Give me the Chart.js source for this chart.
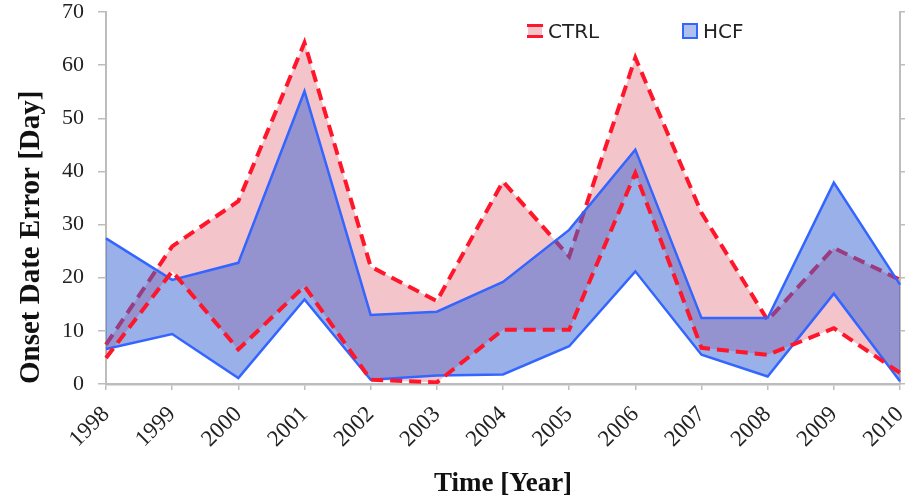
<!DOCTYPE html>
<html lang="en">
  <head>
    <meta charset="UTF-8" />
    <title>Onset Date Error</title>
    <script src="https://cdn.jsdelivr.net/npm/chart.js@4.4.0/dist/chart.umd.min.js"></script>
    <style>
      body { margin: 0; background: #fff; }
    </style>
  </head>
  <body>
    <canvas id="onsetChart" width="916" height="500"></canvas>

    <script>
      // values (days)
      const years = ["1998", "1999", "2000", "2001", "2002", "2003", "2004",
        "2005", "2006", "2007", "2008", "2009", "2010"];
      const ctrlUpper = [7.4, 25.9, 34.4, 64.2, 22.1, 15.6, 38.1, 24.0, 61.4, 32.2, 12.0, 25.6, 19.6];
      const ctrlLower = [4.9, 21.2, 6.5, 18.4, 0.8, 0.3, 10.2, 10.2, 39.7, 6.8, 5.5, 10.5, 2.1];
      const hcfUpper = [27.4, 19.6, 22.8, 55.1, 13.0, 13.6, 19.2, 29.0, 44.1, 12.4, 12.4, 37.9, 18.7];
      const hcfLower = [6.6, 9.4, 1.1, 15.9, 0.8, 1.6, 1.8, 7.1, 21.2, 5.5, 1.4, 17.0, 0.5];
      const yTicks = [0, 10, 20, 30, 40, 50, 60, 70];

      const red = "rgb(255, 22, 42)";
      const pink = "rgba(214, 64, 84, 0.3)";
      const blue = "rgb(52, 102, 255)";
      const blueFill = "rgba(53, 97, 211, 0.5)";
      const axisGray = "#bdbdbd";
      const serif = "'Liberation Serif', 'Times New Roman', serif";

      // legend sits inside the plot, so draw it by hand
      const cornerLegend = {
        id: "cornerLegend",
        afterDraw(chart) {
          const ctx = chart.ctx;
          ctx.save();
          // CTRL swatch
          ctx.fillStyle = pink;
          ctx.fillRect(528, 25, 14, 12);
          ctx.strokeStyle = red;
          ctx.lineWidth = 3;
          ctx.beginPath();
          ctx.moveTo(527, 25.5);
          ctx.lineTo(543, 25.5);
          ctx.moveTo(527, 36.5);
          ctx.lineTo(543, 36.5);
          ctx.stroke();
          // HCF swatch
          ctx.fillStyle = "rgba(53, 97, 211, 0.4)";
          ctx.fillRect(683, 24, 14, 14);
          ctx.strokeStyle = blue;
          ctx.lineWidth = 2;
          ctx.strokeRect(683, 24, 14, 14);

          ctx.fillStyle = "#222";
          ctx.font = "20px 'DejaVu Sans', sans-serif";
          ctx.textBaseline = "middle";
          ctx.fillText("CTRL", 548, 33);
          ctx.fillText("HCF", 703, 33);
          ctx.restore();
        },
      };

      // stop the label overhang from shrinking the plot
      function noOverhang(scale) {
        scale.paddingTop = 0;
        scale.paddingBottom = 0;
        scale.paddingLeft = 0;
        scale.paddingRight = 0;
      }

      const config = {
        type: "line",
        data: {
          labels: years,
          datasets: [
            {
              label: "CTRL",
              data: ctrlUpper,
              borderColor: red,
              borderWidth: 4,
              borderDash: [12, 7],
              backgroundColor: pink,
              fill: "+1",
              order: 4,
            },
            {
              label: "CTRL low",
              data: ctrlLower,
              borderColor: red,
              borderWidth: 4,
              borderDash: [12, 7],
              fill: false,
              order: 1,
            },
            {
              label: "HCF",
              data: hcfUpper,
              borderColor: blue,
              borderWidth: 2.5,
              backgroundColor: blueFill,
              fill: "+1",
              order: 3,
            },
            {
              label: "HCF low",
              data: hcfLower,
              borderColor: blue,
              borderWidth: 2.5,
              fill: false,
              order: 2,
            },
          ],
        },
        options: {
          responsive: false,
          animation: false,
          elements: {
            point: { radius: 0 },
            line: { tension: 0 },
          },
          layout: {
            padding: { left: 14, top: 12, right: 0, bottom: 0 },
          },
          plugins: {
            legend: { display: false },
            tooltip: { enabled: false },
          },
          scales: {
            x: {
              offset: false,
              grid: {
                drawOnChartArea: false,
                color: axisGray,
                tickLength: 6,
                lineWidth: 1.5,
              },
              border: { color: axisGray, width: 2.5 },
              ticks: {
                minRotation: 45,
                maxRotation: 45,
                padding: 11,
                color: "#222",
                font: { family: serif, size: 23 },
              },
              title: {
                display: true,
                text: "Time [Year]",
                color: "#111",
                padding: 0,
                font: { family: serif, size: 27, weight: "bold" },
              },
              afterFit(scale) {
                scale.height = 116;
                noOverhang(scale);
              },
            },
            y: {
              min: 0,
              max: 70,
              afterBuildTicks(scale) {
                scale.ticks = yTicks.map((v) => ({ value: v }));
              },
              grid: {
                drawOnChartArea: false,
                color: axisGray,
                tickLength: 8,
                lineWidth: 1.5,
              },
              border: { color: axisGray, width: 2 },
              ticks: {
                padding: 14,
                color: "#222",
                font: { family: serif, size: 22 },
              },
              title: {
                display: true,
                text: "Onset Date Error [Day]",
                align: "start",
                color: "#111",
                padding: 0,
                font: { family: serif, size: 29, weight: "bold" },
              },
              afterFit(scale) {
                scale.width = 92;
                noOverhang(scale);
              },
            },
            y2: {
              position: "right",
              min: 0,
              max: 70,
              afterBuildTicks(scale) {
                scale.ticks = yTicks.map((v) => ({ value: v }));
              },
              grid: {
                drawOnChartArea: false,
                color: axisGray,
                tickLength: 5,
                lineWidth: 1.5,
              },
              border: { color: axisGray, width: 2 },
              ticks: { display: false },
              afterFit(scale) {
                scale.width = 16;
                noOverhang(scale);
              },
            },
          },
        },
        plugins: [cornerLegend],
      };

      document.addEventListener("DOMContentLoaded", () => {
        const ctx = document.getElementById("onsetChart");
        new Chart(ctx, config);
      });
    </script>
  </body>
</html>
